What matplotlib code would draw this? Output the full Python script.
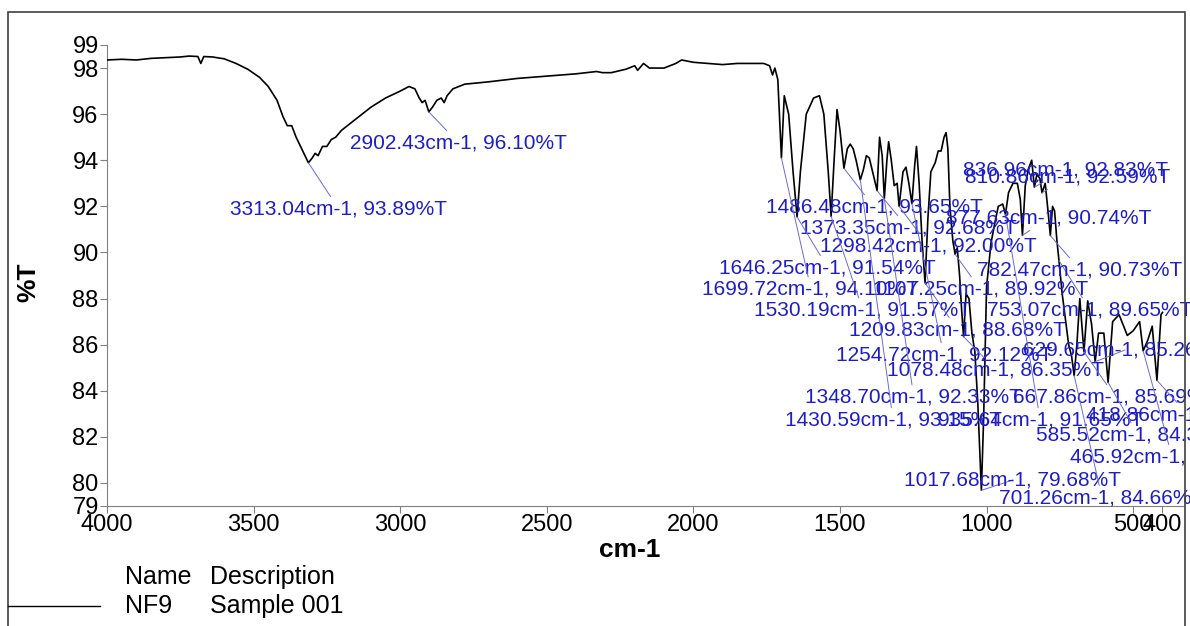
import numpy as np
import matplotlib
matplotlib.use('Agg')
import matplotlib.pyplot as plt
from matplotlib.patches import Rectangle

# ==========================================
# FTIR spectrum NF9 (Sample 001)
# ==========================================
wavenumber = [
    4000, 3950, 3900, 3850, 3800, 3750, 3720, 3690, 3680, 3670, 3640, 3600,
    3560, 3520, 3480, 3450, 3420, 3400, 3385, 3370, 3355, 3340, 3325, 3313.04,
    3300, 3290, 3280, 3265, 3250, 3235, 3220, 3200, 3150, 3100, 3050, 3000,
    2970, 2950, 2935, 2925, 2915, 2902.43, 2890, 2875, 2860, 2850, 2840, 2820,
    2780, 2700, 2600, 2500, 2400, 2330, 2310, 2280, 2230, 2200, 2190, 2170,
    2150, 2100, 2060, 2040, 2020, 2000, 1950, 1900, 1850, 1800, 1770,
    1760, 1740, 1730, 1722, 1712, 1699.72, 1690, 1675, 1660, 1646.25, 1635,
    1615, 1590, 1570, 1555, 1540, 1530.19, 1520, 1510, 1500, 1486.48, 1475,
    1465, 1455, 1445, 1430.59, 1420, 1410, 1400, 1385, 1373.35, 1365, 1356,
    1348.70, 1340, 1334, 1325, 1315, 1305, 1298.42, 1285, 1275, 1265, 1254.72,
    1245, 1239, 1230, 1220, 1209.83, 1200, 1190, 1175, 1165, 1155, 1145, 1138,
    1132, 1125, 1115, 1107.25, 1100, 1092, 1085, 1078.48, 1070, 1060, 1050,
    1040, 1030, 1017.68, 1010, 1000, 985, 970, 960, 945, 935.64, 925, 910, 895,
    885, 877.63, 868, 858, 846, 836.96, 828, 818, 810.86, 800, 792, 782.47,
    775, 768, 760, 753.07, 742, 730, 720, 710, 701.26, 692, 682, 667.86, 655,
    642, 629.65, 618, 600, 585.52, 570, 548, 520, 500, 478, 465.92, 450, 435,
    418.86, 405, 400,
]
transmittance = [
    98.35, 98.38, 98.35, 98.42, 98.45, 98.48, 98.52, 98.50, 98.20, 98.50, 98.48, 98.40,
    98.20, 97.95, 97.60, 97.20, 96.60, 95.90, 95.50, 95.50, 95.00, 94.60, 94.20, 93.89,
    94.10, 94.30, 94.20, 94.60, 94.60, 94.90, 95.00, 95.30, 95.80, 96.30, 96.70, 97.00,
    97.20, 97.10, 96.70, 96.50, 96.60, 96.10, 96.30, 96.60, 96.70, 96.50, 96.80, 97.10,
    97.30, 97.40, 97.55, 97.65, 97.75, 97.85, 97.80, 97.80, 97.95, 98.10, 97.90, 98.20,
    98.00, 98.00, 98.20, 98.35, 98.30, 98.25, 98.20, 98.15, 98.20, 98.20, 98.20,
    98.20, 98.10, 97.70, 98.00, 97.50, 94.10, 96.80, 96.00, 93.50, 91.54, 93.50,
    96.00, 96.70, 96.80, 96.00, 93.50, 91.57, 94.00, 96.20, 95.30, 93.65, 94.50,
    94.70, 94.50, 94.00, 93.15, 93.60, 94.20, 94.10, 93.30, 92.68, 95.00, 94.20,
    92.33, 94.00, 94.80, 94.00, 92.90, 93.00, 92.00, 93.50, 93.70, 93.00, 92.12,
    93.80, 94.60, 93.00, 90.50, 88.68, 91.50, 93.50, 93.90, 94.40, 94.40, 95.00, 95.20,
    94.50, 92.00, 90.50, 89.92, 90.20, 89.00, 87.50, 86.35, 88.20, 88.00, 86.50,
    85.70, 83.50, 79.68, 82.80, 88.50, 90.40, 91.40, 92.00, 92.10, 91.65, 92.60, 93.00, 93.00,
    92.30, 90.74, 92.90, 93.60, 94.00, 92.83, 93.40, 93.20, 92.59, 93.00, 92.00, 90.73,
    92.00, 91.80, 90.50, 89.65, 88.20, 87.00, 86.00, 85.50, 84.66, 86.00, 88.00, 85.69, 87.90,
    86.90, 85.26, 86.50, 86.50, 84.36, 87.00, 87.30, 86.40, 86.60, 87.00, 85.73, 86.20, 86.80,
    84.45, 87.30, 87.40,
]

# peak labels: (wavenumber, %T, text x, text y)
peak_wn = [3313.04, 2902.43, 1486.48, 1373.35, 1298.42, 1646.25, 1699.72, 1107.25,
           1530.19, 753.07, 1209.83, 629.65, 1254.72, 1078.48, 1348.70, 667.86,
           1430.59, 935.64, 418.86, 585.52, 465.92, 1017.68, 701.26, 836.96,
           810.86, 877.63, 782.47]
peak_t = [93.89, 96.10, 93.65, 92.68, 92.00, 91.54, 94.10, 89.92,
          91.57, 89.65, 88.68, 85.26, 92.12, 86.35, 92.33, 85.69,
          93.15, 91.65, 84.45, 84.36, 85.73, 79.68, 84.66, 92.83,
          92.59, 90.74, 90.73]
label_x = [3580, 3171, 1754, 1638, 1567, 1911, 1969, 1389,
           1792, 997, 1468, 877, 1515, 1338, 1618, 911,
           1689, 1167, 662, 833, 717, 1280, 956, 1082,
           1072, 1140, 1031]
label_y = [91.89, 94.75, 91.97, 91.06, 90.28, 89.33, 88.41, 88.41,
           87.50, 87.50, 86.64, 85.77, 85.55, 84.90, 83.73, 83.73,
           82.73, 82.73, 82.95, 82.08, 81.13, 80.13, 79.35, 93.58,
           93.27, 91.49, 89.24]

x_ticks = [4000, 3500, 3000, 2500, 2000, 1500, 1000, 500, 400]
y_ticks = [79, 80, 82, 84, 86, 88, 90, 92, 94, 96, 98, 99]

narrow = ['Liberation Sans Narrow', 'Liberation Sans', 'DejaVu Sans']
plt.rcParams['font.family'] = ['Liberation Sans', 'DejaVu Sans']

fig = plt.figure(figsize=(11.9, 6.26), dpi=100)
ax = fig.add_axes([107/1190, 1 - 506/626, (1183 - 107)/1190, (506 - 45)/626])

ax.plot(wavenumber, transmittance, color='black', lw=1.2, zorder=3)

for wn, t, tx, ty in zip(peak_wn, peak_t, label_x, label_y):
    ax.annotate(f'{wn:.2f}cm-1, {t:.2f}%T', xy=(wn, t), xytext=(tx, ty),
                textcoords='data', ha='left', va='center', fontsize=15,
                color='#1e1ec8', annotation_clip=False, zorder=4,
                arrowprops=dict(arrowstyle='-', color='#6a6ad8', lw=0.7,
                                shrinkA=0, shrinkB=0))

ax.set_xlim(4000, 330)
ax.set_ylim(79, 99)
ax.set_xticks(x_ticks)
ax.set_yticks(y_ticks)
ax.set_xticklabels([str(v) for v in x_ticks], family=narrow, fontsize=17)
ax.set_yticklabels([str(v) for v in y_ticks], family=narrow, fontsize=17)
ax.tick_params(direction='out', length=5, color='#808080', pad=1)
for s in ['top', 'right']:
    ax.spines[s].set_visible(False)
for s in ['left', 'bottom']:
    ax.spines[s].set_color('#808080')

fig.text(630/1190, 1 - 550/626, 'cm-1', ha='center', va='center',
         fontsize=19, fontweight='bold')
fig.text(28/1190, 1 - 282/626, '%T', ha='center', va='center',
         fontsize=19, fontweight='bold', rotation=90)

# legend block under the plot
fig.text(125/1190, 1 - 577/626, 'Name', ha='left', va='center', family=narrow, fontsize=18)
fig.text(210/1190, 1 - 577/626, 'Description', ha='left', va='center', family=narrow, fontsize=18)
fig.text(125/1190, 1 - 606/626, 'NF9', ha='left', va='center', family=narrow, fontsize=18)
fig.text(210/1190, 1 - 606/626, 'Sample 001', ha='left', va='center', family=narrow, fontsize=18)
fig.add_artist(plt.Line2D([8/1190, 100/1190], [1 - 606/626, 1 - 606/626],
                          transform=fig.transFigure, color='black', lw=1))

fig.add_artist(Rectangle((8/1190, -0.05), (1185 - 8)/1190, 1.05 - 12/626,
                         transform=fig.transFigure, fill=False,
                         edgecolor='#404040', lw=1.2, clip_on=False))

fig.savefig('out.png', dpi=100)
